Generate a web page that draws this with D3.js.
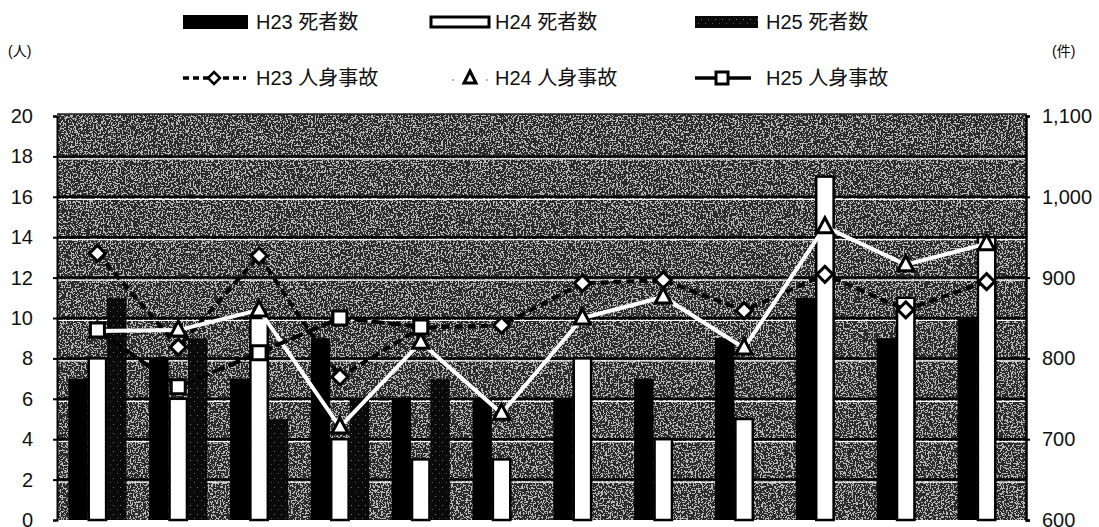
<!DOCTYPE html>
<html>
<head>
<meta charset="utf-8">
<script src="https://cdn.jsdelivr.net/npm/d3@7"></script>
<style>
  body { margin: 0; background: #fff; }
  svg { display: block; font-family: "Liberation Sans", "Noto Sans CJK JP", sans-serif; }
</style>
</head>
<body>
<div id="chart"></div>
<script>
/* Deaths (bars, left axis) and personal-injury accidents (lines, right axis) by month */

const months = ["1月", "2月", "3月", "4月", "5月", "6月", "7月", "8月", "9月", "10月", "11月", "12月"];

const deathsH23 = [7, 8, 7, 9, 6, 6, 6, 7, 9, 11, 9, 10];
const deathsH24 = [8, 6, 10, 4, 3, 3, 8, 4, 5, 17, 11, 14];
const deathsH25 = [11, 9, 5, 6, 7];

const accH23 = [930, 814, 927, 777, 838, 841, 893, 897, 859, 904, 860, 895];
const accH24 = [834, 835, 860, 715, 820, 732, 850, 876, 813, 963, 916, 942];
const accH25 = [835, 765, 807, 850, 839];

const leftTicks = [0, 2, 4, 6, 8, 10, 12, 14, 16, 18, 20];
const rightTicks = [600, 700, 800, 900, 1000, 1100];

const width = 1099,
      height = 527,
      margin = ({ top: 116, right: 72, bottom: 7, left: 57 });

let svg = d3.select("#chart")
    .append("svg")
    .attr("width", width)
    .attr("height", height);

let defs = svg.append("defs");

// scanned grey background: dark/light speckle noise
let grain = defs.append("filter")
    .attr("id", "grain")
    .attr("x", 0).attr("y", 0).attr("width", 1).attr("height", 1)
    .attr("color-interpolation-filters", "sRGB");
grain.append("feTurbulence")
    .attr("type", "fractalNoise")
    .attr("baseFrequency", 0.6)
    .attr("numOctaves", 2)
    .attr("seed", 4);
grain.append("feColorMatrix")
    .attr("type", "matrix")
    .attr("values", "1 0 0 0 0  1 0 0 0 0  1 0 0 0 0  0 0 0 0 1");
let ct = grain.append("feComponentTransfer");
["feFuncR", "feFuncG", "feFuncB"].forEach(f => {
    ct.append(f).attr("type", "discrete")
        .attr("tableValues", "0.17 0.17 0.17 0.17 0.17 0.17 0.72 0.72 0.72 0.72 0.72");
});
grain.append("feComposite").attr("in2", "SourceGraphic").attr("operator", "in");

// dark dotted fill for H25 bars
let dots = defs.append("pattern")
    .attr("id", "dots")
    .attr("width", 7).attr("height", 9)
    .attr("patternUnits", "userSpaceOnUse");
dots.append("rect").attr("width", 7).attr("height", 9).attr("fill", "#0a0a0a");
dots.append("rect").attr("x", 1).attr("y", 1).attr("width", 1).attr("height", 1).attr("fill", "#7a7a7a");
dots.append("rect").attr("x", 5).attr("y", 5).attr("width", 1).attr("height", 1).attr("fill", "#555");

/* Scales */
let x = d3.scaleBand()
    .domain(months)
    .range([margin.left, width - margin.right])
    .paddingInner(0.28)
    .paddingOuter(0.14);

let series = ["H23", "H24", "H25"];
let xSub = d3.scaleBand()
    .domain(series)
    .range([0, x.bandwidth()]);

let y = d3.scaleLinear()
    .domain([0, 20])
    .range([520, margin.top]);

let y2 = d3.scaleLinear()
    .domain([600, 1100])
    .range([520, margin.top]);

/* Plot background */
svg.append("rect")
    .attr("x", margin.left)
    .attr("y", margin.top - 2)
    .attr("width", width - margin.right - margin.left)
    .attr("height", 520 - margin.top + 2)
    .attr("fill", "#000")
    .attr("filter", "url(#grain)");

/* Gridlines */
let grid = svg.append("g");
grid.selectAll(".gw")
    .data(leftTicks.slice(1, -1))
    .join("line")
    .attr("x1", margin.left).attr("x2", width - margin.right)
    .attr("y1", d => y(d) + 2.5).attr("y2", d => y(d) + 2.5)
    .attr("stroke", "#fff").attr("stroke-width", 1.2);
grid.selectAll(".gb")
    .data(leftTicks.slice(1, -1))
    .join("line")
    .attr("x1", margin.left).attr("x2", width - margin.right)
    .attr("y1", d => y(d)).attr("y2", d => y(d))
    .attr("stroke", "#000").attr("stroke-width", 2.5);

svg.append("line")
    .attr("x1", margin.left).attr("x2", width - margin.right)
    .attr("y1", margin.top - 2).attr("y2", margin.top - 2)
    .attr("stroke", "#222").attr("stroke-width", 1.5);

/* Bars */
let barData = [
    { key: "H23", values: deathsH23, fill: "#000", stroke: "none" },
    { key: "H24", values: deathsH24, fill: "#fff", stroke: "#000" },
    { key: "H25", values: deathsH25, fill: "url(#dots)", stroke: "none" }
];

for (let s of barData) {
    svg.append("g")
        .selectAll("rect")
        .data(s.values.map((v, i) => ({ month: months[i], v: v })))
        .join("rect")
        .attr("x", d => x(d.month) + xSub(s.key) + (s.stroke === "none" ? 0 : 1))
        .attr("width", xSub.bandwidth() - (s.stroke === "none" ? 0 : 2))
        .attr("y", d => y(d.v))
        .attr("height", d => y(0) - y(d.v))
        .attr("fill", s.fill)
        .attr("stroke", s.stroke)
        .attr("stroke-width", 2.5);
}

/* Lines */
let cx = m => x(m) + x.bandwidth() / 2;
let line = d3.line()
    .x(d => cx(d.month))
    .y(d => y2(d.v));

const diamond = "M0,-8L8,0L0,8L-8,0Z";
const triangle = "M0,-9L8,6L-8,6Z";
const square = "M-7,-7H7V7H-7Z";

let lineData = [
    { key: "H23", values: accH23, color: "#000", dash: "8,5", shape: diamond },
    { key: "H24", values: accH24, color: "#fff", dash: null, shape: triangle },
    { key: "H25", values: accH25, color: "#000", dash: "13,4", shape: square }
];

for (let s of lineData) {
    let pts = s.values.map((v, i) => ({ month: months[i], v: v }));
    svg.append("path")
        .datum(pts)
        .attr("fill", "none")
        .attr("stroke", s.color)
        .attr("stroke-width", 4)
        .attr("stroke-dasharray", s.dash)
        .attr("d", line);
    svg.append("g")
        .selectAll("path")
        .data(pts)
        .join("path")
        .attr("transform", d => `translate(${cx(d.month)},${y2(d.v)})`)
        .attr("d", s.shape)
        .attr("fill", "#fff")
        .attr("stroke", "#000")
        .attr("stroke-width", 3);
}

/* Axes */
let axisL = svg.append("g")
    .attr("transform", `translate(${margin.left},0)`)
    .call(d3.axisLeft(y).tickValues(leftTicks).tickSize(4).tickPadding(20));
axisL.select(".domain").attr("stroke-width", 2);

let axisR = svg.append("g")
    .attr("transform", `translate(${width - margin.right - 1},0)`)
    .call(d3.axisRight(y2).tickValues(rightTicks).tickSize(4).tickPadding(12).tickFormat(d3.format(",")));
axisR.select(".domain").attr("stroke-width", 2.5);

svg.selectAll(".tick text")
    .style("font-size", "20px")
    .attr("fill", "#111");
svg.selectAll(".tick line").attr("stroke-width", 2);

svg.append("text")
    .attr("x", 8).attr("y", 56)
    .style("font-size", "14px")
    .text("(人)");

svg.append("text")
    .attr("x", 1052).attr("y", 56)
    .style("font-size", "14px")
    .text("(件)");

/* Legend */
let legend = svg.append("g").style("font-size", "20px");
let row1 = 22, row2 = 78;

legend.append("rect").attr("x", 183).attr("y", row1 - 7).attr("width", 65).attr("height", 14).attr("fill", "#000");
legend.append("rect").attr("x", 431).attr("y", row1 - 5).attr("width", 58).attr("height", 10)
    .attr("fill", "#fff").attr("stroke", "#000").attr("stroke-width", 3);
legend.append("rect").attr("x", 695).attr("y", row1 - 6).attr("width", 63).attr("height", 12).attr("fill", "url(#dots)");

legend.append("line").attr("x1", 183).attr("x2", 246).attr("y1", row2).attr("y2", row2)
    .attr("stroke", "#000").attr("stroke-width", 3.5).attr("stroke-dasharray", "6,4");
legend.append("path").attr("transform", `translate(214,${row2})`).attr("d", "M0,-6L6,0L0,6L-6,0Z")
    .attr("fill", "#fff").attr("stroke", "#000").attr("stroke-width", 2.5);

legend.append("path").attr("transform", `translate(470,${row2})`).attr("d", "M0,-7L6,5L-6,5Z")
    .attr("fill", "#fff").attr("stroke", "#000").attr("stroke-width", 3);
legend.append("circle").attr("cx", 453).attr("cy", row2 + 2).attr("r", 0.8).attr("fill", "#555");
legend.append("circle").attr("cx", 487).attr("cy", row2 + 2).attr("r", 0.8).attr("fill", "#555");

legend.append("line").attr("x1", 695).attr("x2", 751).attr("y1", row2).attr("y2", row2)
    .attr("stroke", "#000").attr("stroke-width", 3.5);
legend.append("path").attr("transform", `translate(722,${row2})`).attr("d", "M-6,-6H6V6H-6Z")
    .attr("fill", "#fff").attr("stroke", "#000").attr("stroke-width", 3);

let labels = [
    { t: "H23 死者数", x: 256, y: row1 },
    { t: "H24 死者数", x: 495, y: row1 },
    { t: "H25 死者数", x: 766, y: row1 },
    { t: "H23 人身事故", x: 256, y: row2 },
    { t: "H24 人身事故", x: 495, y: row2 },
    { t: "H25 人身事故", x: 766, y: row2 }
];
legend.selectAll(".lbl")
    .data(labels)
    .join("text")
    .attr("x", d => d.x)
    .attr("y", d => d.y)
    .attr("dy", "0.36em")
    .attr("fill", "#111")
    .text(d => d.t);
</script>
</body>
</html>
